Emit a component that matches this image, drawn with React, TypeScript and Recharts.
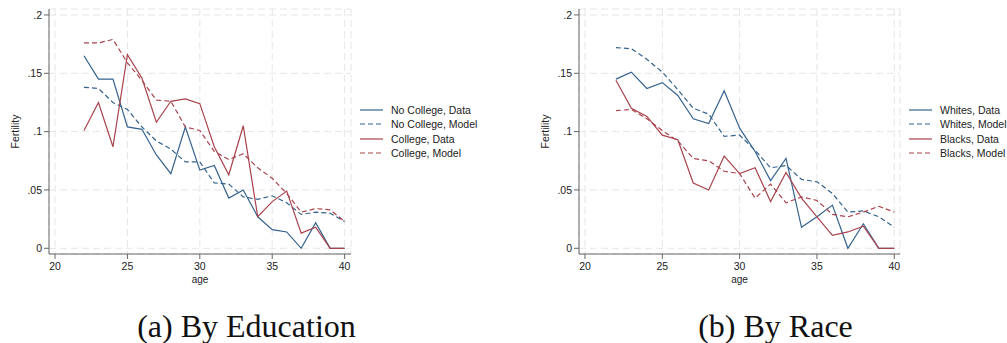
import React from 'react';
import { LineChart, Line, XAxis, YAxis, CartesianGrid, Legend } from 'recharts';

// ---- data ----
const ages = [22, 23, 24, 25, 26, 27, 28, 29, 30, 31, 32, 33, 34, 35, 36, 37, 38, 39, 40];

const noCollegeData = [0.165, 0.145, 0.145, 0.104, 0.102, 0.080, 0.064, 0.104, 0.067, 0.071, 0.043, 0.050, 0.027, 0.016, 0.014, 0.0, 0.022, 0.0, 0.0];
const noCollegeModel = [0.138, 0.137, 0.125, 0.119, 0.104, 0.092, 0.085, 0.074, 0.074, 0.056, 0.055, 0.044, 0.042, 0.045, 0.039, 0.029, 0.031, 0.030, 0.023];
const collegeData = [0.101, 0.125, 0.087, 0.166, 0.146, 0.108, 0.126, 0.128, 0.124, 0.087, 0.063, 0.105, 0.027, 0.040, 0.049, 0.013, 0.018, 0.0, 0.0];
const collegeModel = [0.176, 0.176, 0.179, 0.159, 0.144, 0.127, 0.126, 0.104, 0.101, 0.083, 0.076, 0.081, 0.069, 0.060, 0.047, 0.031, 0.034, 0.033, 0.023];

const whitesData = [0.145, 0.151, 0.137, 0.142, 0.131, 0.111, 0.107, 0.135, 0.103, 0.083, 0.058, 0.077, 0.018, 0.027, 0.037, 0.0, 0.021, 0.0, 0.0];
const whitesModel = [0.172, 0.171, 0.162, 0.151, 0.136, 0.120, 0.115, 0.096, 0.097, 0.084, 0.069, 0.071, 0.059, 0.057, 0.047, 0.031, 0.032, 0.027, 0.018];
const blacksData = [0.144, 0.120, 0.113, 0.097, 0.093, 0.056, 0.050, 0.079, 0.064, 0.069, 0.040, 0.065, 0.043, 0.027, 0.011, 0.014, 0.019, 0.0, 0.0];
const blacksModel = [0.118, 0.119, 0.111, 0.101, 0.092, 0.077, 0.075, 0.066, 0.064, 0.043, 0.055, 0.039, 0.044, 0.041, 0.029, 0.027, 0.031, 0.036, 0.031];

const xTicks = [20, 25, 30, 35, 40];
const yTicks = [0, 0.05, 0.1, 0.15, 0.2];
const yTickLabels = ['0', '.05', '.1', '.15', '.2'];

const educationNames = ['No College, Data', 'No College, Model', 'College, Data', 'College, Model'];
const raceNames = ['Whites, Data', 'Whites, Model', 'Blacks, Data', 'Blacks, Model'];
const captions = ['(a) By Education', '(b) By Race'];

// ---- styling ----
const BLUE = '#34628c';
const RED = '#a8434d';
const SANS = '"Liberation Sans", Arial, sans-serif';
const TEXT = '#222';
const AXIS = '#666';

type Series = { key: string; name: string; color: string; dashed: boolean };

const eduData = ages.map((a, i) => ({
  age: a,
  s0: noCollegeData[i],
  s1: noCollegeModel[i],
  s2: collegeData[i],
  s3: collegeModel[i],
}));

const raceData = ages.map((a, i) => ({
  age: a,
  s0: whitesData[i],
  s1: whitesModel[i],
  s2: blacksData[i],
  s3: blacksModel[i],
}));

const makeSeries = (names: string[]): Series[] => [
  { key: 's0', name: names[0], color: BLUE, dashed: false },
  { key: 's1', name: names[1], color: BLUE, dashed: true },
  { key: 's2', name: names[2], color: RED, dashed: false },
  { key: 's3', name: names[3], color: RED, dashed: true },
];

const yFormatter = (v: number) => {
  const idx = yTicks.findIndex((t) => Math.abs(t - v) < 1e-9);
  return idx >= 0 ? yTickLabels[idx] : String(v);
};

function Panel(props: {
  data: any[];
  series: Series[];
  xDomain: [number, number];
  plotRight: number;
  legendLeft: number;
}) {
  const { data, series, xDomain, plotRight, legendLeft } = props;
  const W = 500;
  const renderLegend = (lp: any) => {
    const payload: any[] = lp.payload || [];
    const ordered = series.map((s) => {
      const p = payload.find((q: any) => q.dataKey === s.key);
      return { s, label: p ? p.value : s.name };
    });
    return (
      <div style={{ fontFamily: SANS, fontSize: 10.5, color: TEXT }}>
        {ordered.map(({ s, label }, i) => (
          <div key={i} style={{ display: 'flex', alignItems: 'center', height: 14.4, whiteSpace: 'nowrap' }}>
            <svg width={24} height={10} style={{ marginRight: 7, display: 'block' }}>
              <line
                x1={0}
                y1={5}
                x2={23}
                y2={5}
                stroke={s.color}
                strokeWidth={1.2}
                strokeDasharray={s.dashed ? '5 3' : undefined}
              />
            </svg>
            <span>{label}</span>
          </div>
        ))}
      </div>
    );
  };
  return (
    <LineChart width={W} height={300} data={data} margin={{ top: 9, right: W - plotRight, bottom: 0, left: 0 }}>
      <CartesianGrid stroke="#e6e6e6" strokeDasharray="7 4" />
      <XAxis
        dataKey="age"
        type="number"
        domain={xDomain}
        ticks={xTicks}
        interval={0}
        allowDataOverflow
        height={46}
        tickSize={5}
        tickMargin={4}
        axisLine={{ stroke: AXIS }}
        tickLine={{ stroke: AXIS }}
        tick={{ fontSize: 10.5, fill: TEXT, fontFamily: SANS }}
        label={{ value: 'age', position: 'insideBottom', offset: 17, style: { fontSize: 10, fill: TEXT, fontFamily: SANS } }}
      />
      <YAxis
        type="number"
        domain={[-0.0049, 0.2051]}
        ticks={yTicks}
        interval={0}
        allowDataOverflow
        width={49}
        tickSize={5}
        tickMargin={2}
        tickFormatter={yFormatter}
        axisLine={{ stroke: AXIS }}
        tickLine={{ stroke: AXIS }}
        tick={{ fontSize: 10.5, fill: TEXT, fontFamily: SANS }}
        label={{
          value: 'Fertility',
          angle: -90,
          position: 'insideLeft',
          offset: 15,
          style: { fontSize: 10.5, fill: TEXT, fontFamily: SANS, textAnchor: 'middle' },
        }}
      />
      <Legend
        layout="vertical"
        align="center"
        verticalAlign="middle"
        content={renderLegend}
        wrapperStyle={{ left: legendLeft, top: 102.8, width: 140 }}
      />
      {series.map((s) => (
        <Line
          key={s.key}
          type="linear"
          dataKey={s.key}
          name={s.name}
          stroke={s.color}
          strokeWidth={1.2}
          strokeDasharray={s.dashed ? '5 3' : undefined}
          dot={false}
          activeDot={false}
          isAnimationActive={false}
        />
      ))}
    </LineChart>
  );
}

export default function App() {
  return (
    <div style={{ position: 'absolute', left: 0, top: 0, width: 1007, height: 343, background: '#fff', overflow: 'hidden' }}>
      <div style={{ position: 'absolute', left: 0, top: 0 }}>
        <Panel data={eduData} series={makeSeries(educationNames)} xDomain={[19.585, 40.44]} plotRight={351} legendLeft={360} />
      </div>
      <div style={{ position: 'absolute', left: 530, top: 0 }}>
        <Panel data={raceData} series={makeSeries(raceNames)} xDomain={[19.612, 40.37]} plotRight={370} legendLeft={379} />
      </div>
      <svg width={1007} height={343} style={{ position: 'absolute', left: 0, top: 0, pointerEvents: 'none' }}>
        <text x={246.5} y={337} textAnchor="middle" fontFamily='"Liberation Serif", "Times New Roman", serif' fontSize={32} fill="#111">
          {captions[0]}
        </text>
        <text x={775.5} y={337} textAnchor="middle" fontFamily='"Liberation Serif", "Times New Roman", serif' fontSize={32} fill="#111">
          {captions[1]}
        </text>
      </svg>
    </div>
  );
}
